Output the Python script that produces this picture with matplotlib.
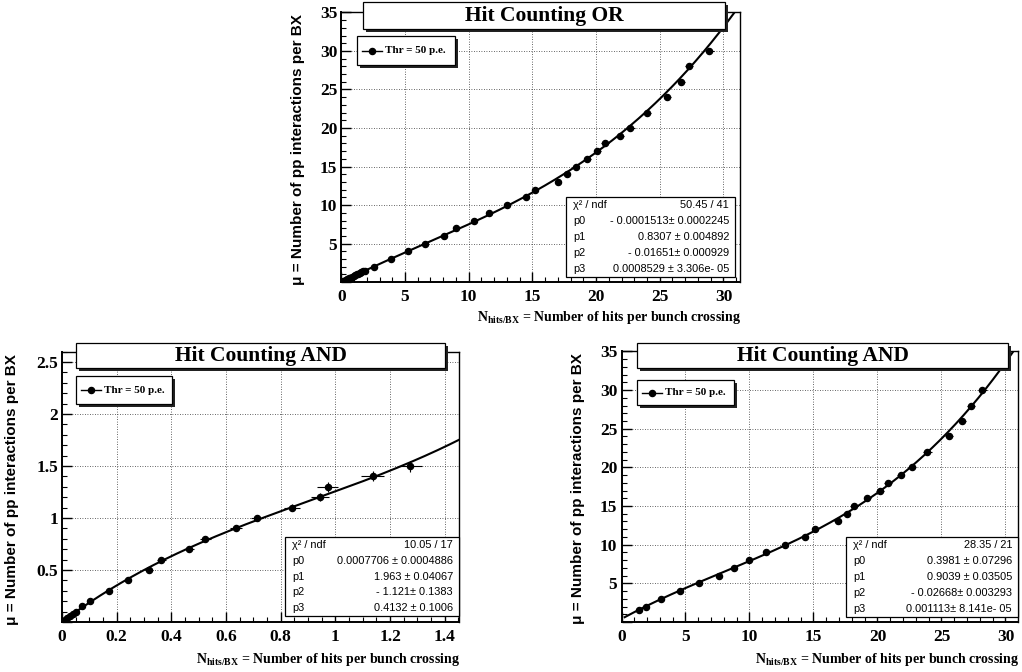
import matplotlib
matplotlib.use("Agg")
import matplotlib.pyplot as plt
from matplotlib.patches import Rectangle
from matplotlib.lines import Line2D
from matplotlib.ticker import MultipleLocator, FuncFormatter
import numpy as np

W, H = 1022, 672

plt.rcParams["mathtext.fontset"] = "custom"
plt.rcParams["mathtext.bf"] = "Liberation Serif:bold"
plt.rcParams["mathtext.rm"] = "Liberation Serif"

# mu values (number of pp interactions per BX)
mu_low = [0.01, 0.02, 0.04, 0.06, 0.08, 0.1, 0.15, 0.2, 0.3, 0.4, 0.5,
          0.6, 0.7, 0.8, 0.9, 1.0, 1.1, 1.2, 1.3, 1.4, 1.5]
mu_high = [2, 3, 4, 5, 6, 7, 8, 9, 10, 11, 12, 13, 14, 15, 16, 17, 18, 19, 20,
           22, 24, 26, 28, 30]

# Hit counting OR (all points)
or_mu = mu_low + mu_high
or_x = [0.012, 0.024, 0.048, 0.072, 0.096, 0.12, 0.18, 0.24, 0.36, 0.48, 0.6,
        0.72, 0.85, 0.97, 1.09, 1.21, 1.34, 1.46, 1.58, 1.71, 1.84,
        2.6, 3.9, 5.2, 6.6, 8.1, 9.0, 10.4, 11.6, 13.0, 14.5, 15.2, 17.0, 17.7,
        18.4, 19.3, 20.1, 20.7, 21.9, 22.7, 24.0, 25.6, 26.7, 27.3, 28.9]
or_xerr = [0.002, 0.003, 0.005, 0.007, 0.008, 0.01, 0.012, 0.015, 0.02, 0.025, 0.03,
           0.035, 0.04, 0.045, 0.05, 0.05, 0.055, 0.06, 0.06, 0.065, 0.07,
           0.08, 0.1, 0.12, 0.14, 0.15, 0.17, 0.18, 0.2, 0.21, 0.22, 0.23, 0.25, 0.26,
           0.27, 0.28, 0.3, 0.3, 0.31, 0.32, 0.35, 0.27, 0.3, 0.3, 0.33]
or_yerr = [0.002, 0.003, 0.004, 0.005, 0.006, 0.007, 0.008, 0.009, 0.011, 0.013, 0.015,
           0.016, 0.018, 0.02, 0.021, 0.022, 0.024, 0.025, 0.026, 0.028, 0.03,
           0.035, 0.04, 0.05, 0.055, 0.06, 0.065, 0.07, 0.075, 0.08, 0.085, 0.09, 0.095, 0.1,
           0.1, 0.11, 0.11, 0.12, 0.12, 0.13, 0.13, 0.14, 0.15, 0.15, 0.16]
or_pars = [-0.0001513, 0.8307, -0.01651, 0.0008529]
or_stats = ["50.45 / 41", "- 0.0001513\u00b1 0.0002245", "0.8307 \u00b1 0.004892",
            "- 0.01651\u00b1 0.000929", "0.0008529 \u00b1 3.306e- 05"]

# Hit counting AND, low mu
andl_mu = mu_low
andl_x = [0.005, 0.010, 0.020, 0.030, 0.041, 0.051, 0.073, 0.101, 0.171, 0.24, 0.317,
          0.363, 0.463, 0.524, 0.637, 0.712, 0.842, 0.944, 0.972, 1.136, 1.273]
andl_xerr = [0.001, 0.002, 0.003, 0.004, 0.005, 0.006, 0.007, 0.008, 0.01, 0.012, 0.014,
             0.016, 0.018, 0.02, 0.022, 0.022, 0.029, 0.033, 0.038, 0.043, 0.045]
andl_yerr = [0.002, 0.003, 0.005, 0.006, 0.007, 0.008, 0.01, 0.011, 0.014, 0.016, 0.018,
             0.02, 0.022, 0.025, 0.028, 0.033, 0.036, 0.04, 0.045, 0.048, 0.053]
andl_pars = [0.0007706, 1.963, -1.121, 0.4132]
andl_stats = ["10.05 / 17", "0.0007706 \u00b1 0.0004886", "1.963 \u00b1 0.04067",
              "- 1.121\u00b1 0.1383", "0.4132 \u00b1 0.1006"]

# Hit counting AND, high mu
andh_mu = [1.5] + mu_high
andh_x = [1.34, 1.91, 3.11, 4.55, 6.08, 7.59, 8.77, 10.0, 11.29, 12.8, 14.3, 15.1, 16.9,
          17.6, 18.2, 19.2, 20.2, 20.8, 21.8, 22.7, 23.9, 25.6, 26.6, 27.3, 28.2]
andh_xerr = [0.07, 0.08, 0.1, 0.12, 0.14, 0.16, 0.17, 0.19, 0.2, 0.22, 0.23, 0.24, 0.26,
             0.27, 0.28, 0.29, 0.3, 0.3, 0.31, 0.32, 0.33, 0.29, 0.3, 0.32, 0.33]
andh_yerr = [0.03, 0.035, 0.04, 0.05, 0.055, 0.06, 0.065, 0.07, 0.075, 0.08, 0.085, 0.09,
             0.095, 0.1, 0.1, 0.11, 0.11, 0.12, 0.12, 0.13, 0.13, 0.14, 0.15, 0.15, 0.16]
andh_pars = [0.3981, 0.9039, -0.02668, 0.001113]
andh_stats = ["28.35 / 21", "0.3981 \u00b1 0.07296", "0.9039 \u00b1 0.03505",
              "- 0.02668\u00b1 0.003293", "0.001113\u00b1 8.141e- 05"]

stat_names = ["\u03c7\u00b2 / ndf", "p0", "p1", "p2", "p3"]

SERIF = "Liberation Serif"
SANS = "Liberation Sans"

fig = plt.figure(figsize=(W / 100, H / 100), dpi=100)


def fx(px):
    return px / W


def fy(py):
    return 1 - py / H


def shadow_box(x0, y0, x1, y1, sh=3):
    fig.add_artist(Rectangle((fx(x0 + sh), fy(y1 + sh)), fx(x1 - x0), (y1 - y0) / H,
                             transform=fig.transFigure, facecolor="#222222",
                             edgecolor="none", zorder=5))
    fig.add_artist(Rectangle((fx(x0), fy(y1)), fx(x1 - x0), (y1 - y0) / H,
                             transform=fig.transFigure, facecolor="white",
                             edgecolor="black", lw=0.9, zorder=6))


def panel(frame, xlim, ylim, xmaj, xmin, ymaj, ymin, x, y, xerr, yerr, pars, fit_lo,
          title, title_px, leg_px, stats_px, stats, ylab_x, xlab_y):
    l, t, r, b = frame
    ax = fig.add_axes([fx(l), fy(b), fx(r - l), (b - t) / H])
    ax.set_xlim(*xlim)
    ax.set_ylim(*ylim)
    ax.xaxis.set_major_locator(MultipleLocator(xmaj))
    ax.xaxis.set_minor_locator(MultipleLocator(xmin))
    ax.yaxis.set_major_locator(MultipleLocator(ymaj))
    ax.yaxis.set_minor_locator(MultipleLocator(ymin))
    ax.yaxis.set_major_formatter(FuncFormatter(lambda v, p: "" if abs(v) < 1e-9 else f"{v:g}"))
    ax.xaxis.set_major_formatter(FuncFormatter(lambda v, p: f"{v:g}"))
    ax.tick_params(which="both", direction="in", top=False, right=False)
    ax.tick_params(which="major", length=7, width=1.0)
    ax.tick_params(which="minor", length=3.5, width=0.8)
    ax.tick_params(axis="x", pad=5)
    ax.tick_params(axis="y", pad=3)
    for lab in ax.get_xticklabels() + ax.get_yticklabels():
        lab.set_fontfamily(SERIF)
        lab.set_fontweight("bold")
        lab.set_fontsize(12.5)
    for s in ax.spines.values():
        s.set_linewidth(1.0)
    ax.spines["left"].set_linewidth(1.4)
    ax.spines["bottom"].set_linewidth(1.4)
    ax.grid(True, which="major", ls=(0, (1, 2)), color="#333333", lw=0.6)
    ax.set_axisbelow(True)

    xs = np.linspace(fit_lo, xlim[1], 500)
    ys = pars[0] + pars[1] * xs + pars[2] * xs ** 2 + pars[3] * xs ** 3
    ax.plot(xs, ys, color="black", lw=1.5, zorder=3)
    ax.errorbar(x, y, xerr=xerr, yerr=yerr, fmt="o", ms=4.4, color="black",
                ecolor="black", elinewidth=0.8, capsize=0, zorder=4)

    # title box
    shadow_box(*title_px)
    fig.text(fx((title_px[0] + title_px[2]) / 2), fy((title_px[1] + title_px[3]) / 2 + 1),
             title, ha="center", va="center", fontfamily=SERIF, fontweight="bold",
             fontsize=15.5, zorder=7)

    # legend box
    shadow_box(*leg_px)
    ly = (leg_px[1] + leg_px[3]) / 2
    fig.add_artist(Line2D([fx(leg_px[0] + 5), fx(leg_px[0] + 25)], [fy(ly), fy(ly)],
                          transform=fig.transFigure, color="black", lw=1.0, zorder=7))
    fig.add_artist(Line2D([fx(leg_px[0] + 15)], [fy(ly)], transform=fig.transFigure,
                          marker="o", ms=4.4, color="black", zorder=7))
    fig.text(fx(leg_px[0] + 28), fy(ly), "Thr = 50 p.e.", ha="left", va="center",
             fontfamily=SERIF, fontweight="bold", fontsize=8, zorder=7)

    # stats box
    sx0, sy0, sx1, sy1 = stats_px
    fig.add_artist(Rectangle((fx(sx0), fy(sy1)), fx(sx1 - sx0), (sy1 - sy0) / H,
                             transform=fig.transFigure, facecolor="white",
                             edgecolor="black", lw=0.9, zorder=6))
    rh = (sy1 - sy0) / 5
    for i, (nm, val) in enumerate(zip(stat_names, stats)):
        yy = sy0 + rh * (i + 0.5)
        fig.text(fx(sx0 + 7), fy(yy), nm, ha="left", va="center", fontfamily=SANS,
                 fontsize=7.9, zorder=7)
        fig.text(fx(sx1 - 6), fy(yy), val, ha="right", va="center", fontfamily=SANS,
                 fontsize=7.9, zorder=7)

    # axis titles
    fig.text(fx(ylab_x), fy(t + 2), "\u03bc = Number of pp interactions per BX",
             rotation=90, ha="center", va="top", fontfamily=SANS, fontweight="bold",
             fontsize=11)
    fig.text(fx(r + 1), fy(xlab_y), r"$\mathbf{N_{hits/BX}}$ = Number of hits per bunch crossing",
             ha="right", va="center", fontfamily=SERIF, fontweight="bold", fontsize=10)
    return ax


panel((341.3, 12.4, 740, 282.2), (0, 31.3), (0, 35), 5, 1, 5, 1,
      or_x, or_mu, or_xerr, or_yerr, or_pars, 0.0,
      "Hit Counting OR", (363, 2, 725, 29), (357, 36, 455, 65), (566, 197, 735, 277),
      or_stats, 298, 318)

panel((62, 351.7, 459, 622), (0, 1.452), (0, 2.6), 0.2, 0.05, 0.5, 0.1,
      andl_x, andl_mu, andl_xerr, andl_yerr, andl_pars, 0.0,
      "Hit Counting AND", (76, 343, 445, 368), (76, 376, 172, 404), (285, 537, 459, 616),
      andl_stats, 12, 660)

panel((621.5, 351.4, 1018, 622), (0, 30.98), (0, 35), 5, 1, 5, 1,
      andh_x, andh_mu, andh_xerr, andh_yerr, andh_pars, 0.25,
      "Hit Counting AND", (637, 343, 1008, 368), (637, 380, 734, 405), (846, 537, 1018, 617),
      andh_stats, 578, 660)

fig.savefig("out.png", dpi=100)
